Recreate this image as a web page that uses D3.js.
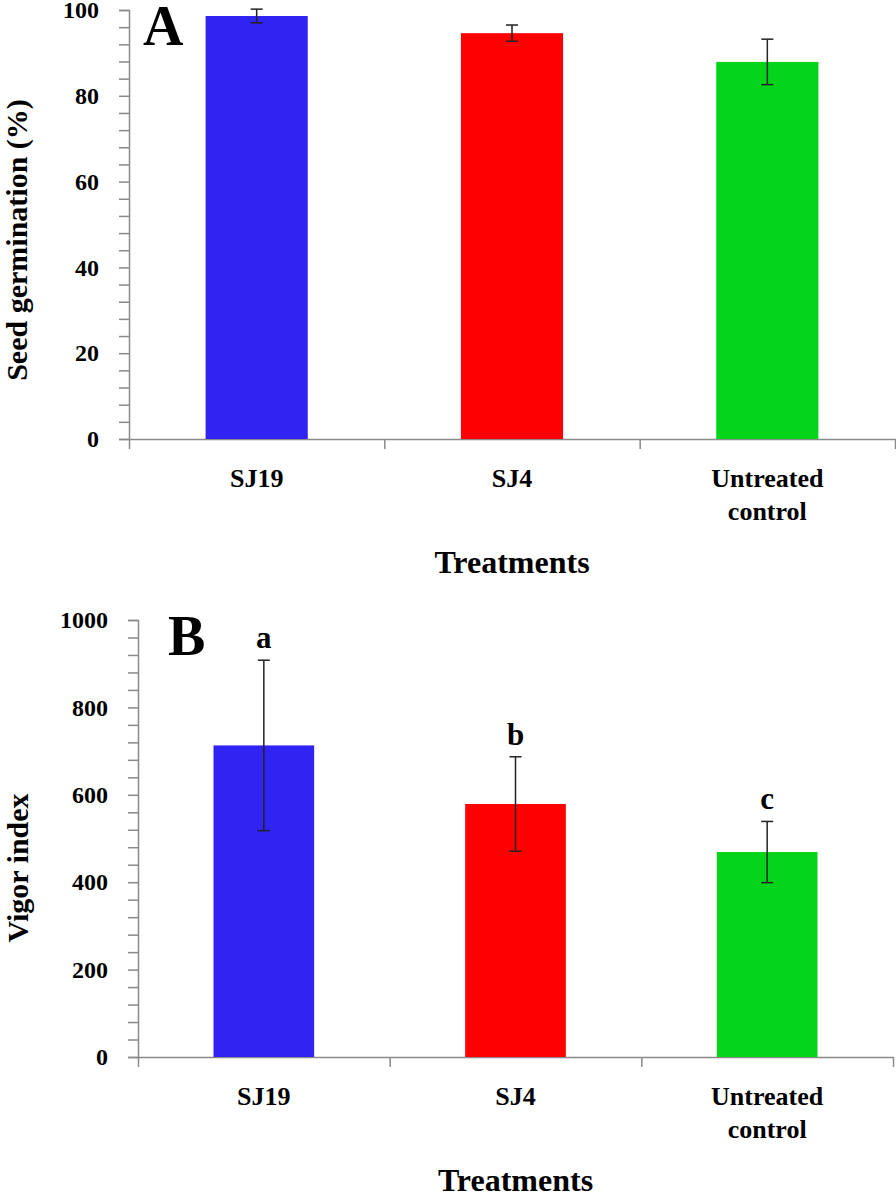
<!DOCTYPE html>
<html>
    <head>
        <meta charset="utf-8" />
        <script src="https://d3js.org/d3.v7.min.js"></script>
        <style>
            body { margin: 0; background: #fff; }
            svg { display: block; font-family: "Liberation Serif", "Times New Roman", serif; font-weight: bold; }
        </style>
    </head>
    <body>
        <svg width="896" height="1194"></svg>
        <script>
            const categories = ['SJ19', 'SJ4', 'Untreated control']
            const colors = ['#3124f2', '#ff0000', '#04d41a']

            const germination = [98.6, 94.6, 87.9]
            const germinationErr = [1.6, 1.9, 5.3]
            const germinationTicks = [0, 20, 40, 60, 80, 100]

            const vigor = [713, 579, 469]
            const vigorErr = [195, 108, 70]
            const vigorLetters = ['a', 'b', 'c']
            const vigorTicks = [0, 200, 400, 600, 800, 1000]

            const svg = d3.select('svg')

            function panel(opt) {
                const g = svg.append('g')
                const y = d3.scaleLinear().domain([0, opt.max]).range([opt.bottom, opt.top])
                const x = d3.scaleBand().domain(categories).range([opt.left, opt.right])
                const xEdge = d3.scaleLinear().domain([0, categories.length]).range([opt.left, opt.right])

                // y axis, minor ticks every 1/5 of a major step
                const yAxis = g.append('g')
                    .attr('transform', `translate(${opt.left},0)`)
                    .call(d3.axisLeft(y)
                        .tickValues(d3.range(0, opt.max + 1, opt.minor))
                        .tickSize(10)
                        .tickPadding(20)
                        .tickFormat(d => opt.ticks.includes(d) ? d : ''))
                    .attr('font-family', null)
                yAxis.selectAll('text').style('font-size', '24px').attr('fill', '#000')

                // x axis with ticks at category borders
                g.append('g')
                    .attr('transform', `translate(0,${opt.bottom})`)
                    .call(d3.axisBottom(xEdge)
                        .tickValues(d3.range(0, categories.length + 1))
                        .tickSize(10)
                        .tickSizeOuter(0)
                        .tickFormat(''))

                g.selectAll('.domain, .tick line').attr('stroke', '#8a8a8a').attr('stroke-width', 1.5)

                const bw = x.bandwidth() * 0.4
                g.selectAll('rect.bar')
                    .data(opt.values)
                    .enter()
                    .append('rect')
                    .attr('class', 'bar')
                    .attr('x', (d, i) => x(categories[i]) + x.bandwidth() / 2 - bw / 2)
                    .attr('width', bw)
                    .attr('y', d => y(d))
                    .attr('height', d => y(0) - y(d))
                    .attr('fill', (d, i) => colors[i])

                // error bars
                const cx = i => x(categories[i]) + x.bandwidth() / 2
                const err = g.selectAll('g.err')
                    .data(opt.values)
                    .enter()
                    .append('g')
                    .attr('stroke', '#222')
                    .attr('stroke-width', 1.5)
                err.append('line')
                    .attr('x1', (d, i) => cx(i)).attr('x2', (d, i) => cx(i))
                    .attr('y1', (d, i) => y(d + opt.err[i])).attr('y2', (d, i) => y(d - opt.err[i]))
                err.append('line')
                    .attr('x1', (d, i) => cx(i) - 6).attr('x2', (d, i) => cx(i) + 6)
                    .attr('y1', (d, i) => y(d + opt.err[i])).attr('y2', (d, i) => y(d + opt.err[i]))
                err.append('line')
                    .attr('x1', (d, i) => cx(i) - 6).attr('x2', (d, i) => cx(i) + 6)
                    .attr('y1', (d, i) => y(d - opt.err[i])).attr('y2', (d, i) => y(d - opt.err[i]))

                if (opt.letters) {
                    g.selectAll('text.letter')
                        .data(opt.values)
                        .enter()
                        .append('text')
                        .attr('x', (d, i) => cx(i))
                        .attr('y', (d, i) => y(d + opt.err[i]) - 12)
                        .attr('text-anchor', 'middle')
                        .style('font-size', '31px')
                        .text((d, i) => opt.letters[i])
                }

                // category labels, split into lines
                categories.forEach((c, i) => {
                    const t = g.append('text')
                        .attr('x', cx(i))
                        .attr('y', opt.bottom + 48)
                        .attr('text-anchor', 'middle')
                        .style('font-size', '26px')
                    c.split(' ').forEach((w, j) => {
                        t.append('tspan').attr('x', cx(i)).attr('dy', j ? 33 : 0).text(w)
                    })
                })

                g.append('text')
                    .attr('x', (opt.left + opt.right) / 2)
                    .attr('y', opt.bottom + 134)
                    .attr('text-anchor', 'middle')
                    .style('font-size', '32px')
                    .text('Treatments')

                g.append('text')
                    .attr('transform', `translate(${opt.titleX},${opt.titleY}) rotate(-90)`)
                    .attr('text-anchor', 'middle')
                    .style('font-size', '30px')
                    .text(opt.title)

                g.append('text')
                    .attr('x', opt.letterX)
                    .attr('y', opt.top + 35)
                    .style('font-size', '56px')
                    .text(opt.label)
            }

            panel({
                left: 129, right: 895, top: 10, bottom: 439,
                max: 100, minor: 4, ticks: germinationTicks,
                values: germination, err: germinationErr,
                title: 'Seed germination (%)', titleX: 27, titleY: 240,
                label: 'A', letterX: 143
            })

            panel({
                left: 138, right: 893, top: 620, bottom: 1057,
                max: 1000, minor: 40, ticks: vigorTicks,
                values: vigor, err: vigorErr, letters: vigorLetters,
                title: 'Vigor index', titleX: 28, titleY: 868,
                label: 'B', letterX: 168
            })
        </script>
    </body>
</html>
